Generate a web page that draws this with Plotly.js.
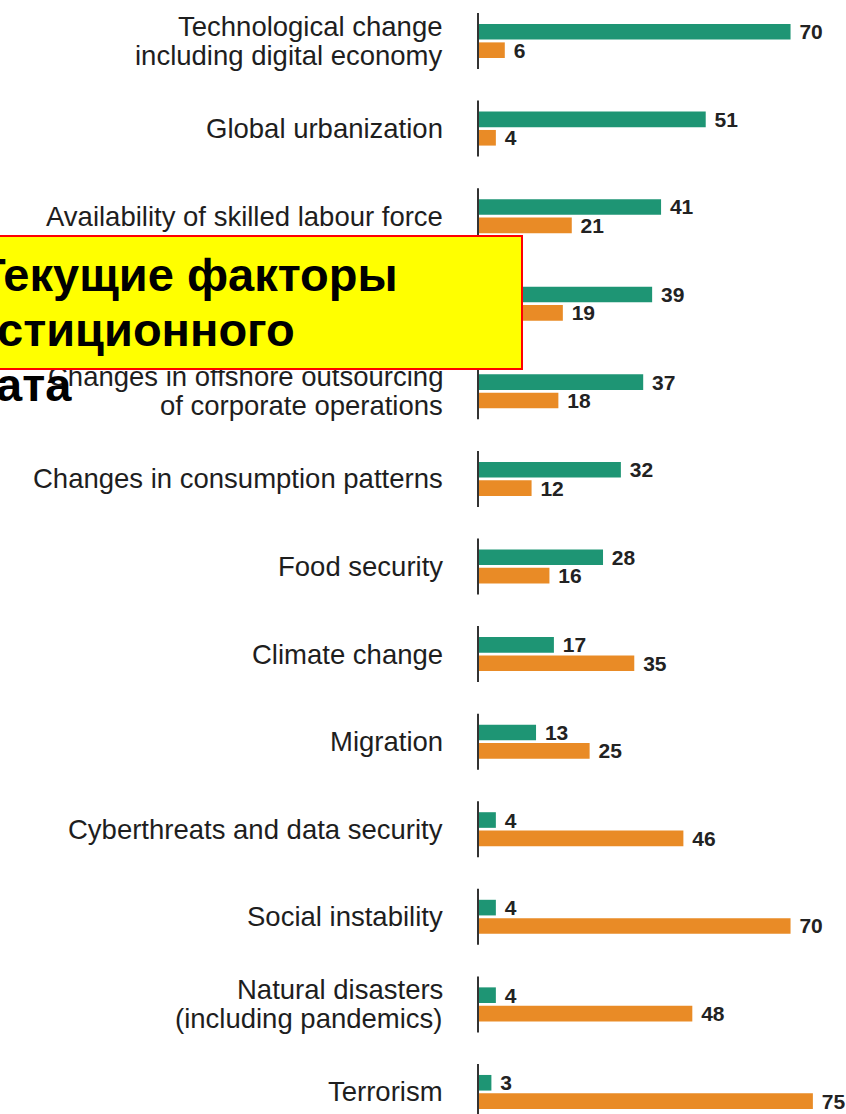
<!DOCTYPE html>
<html>
<head>
<meta charset="utf-8">
<script src="https://cdn.plot.ly/plotly-3.0.1.min.js"></script>
<style>
  html, body { margin: 0; padding: 0; background: #ffffff; }
  #chart { width: 846px; height: 1114px; }
</style>
</head>
<body>
<div id="chart"></div>
<script>
// ---- Data ----
const categories = [
  "Technological change<br>including digital economy",
  "Global urbanization",
  "Availability of skilled labour force",
  "Demographic change",
  "Changes in offshore outsourcing<br>of corporate operations",
  "Changes in consumption patterns",
  "Food security",
  "Climate change",
  "Migration",
  "Cyberthreats and data security",
  "Social instability",
  "Natural disasters<br>(including pandemics)",
  "Terrorism"
];
const greenValues  = [70, 51, 41, 39, 37, 32, 28, 17, 13, 4, 4, 4, 3];
const orangeValues = [6, 4, 21, 19, 18, 12, 16, 35, 25, 46, 70, 48, 75];
const titleLines = ["Текущие факторы", "инвестиционного", "климата"];

// ---- Styles ----
const W = 846, H = 1114;
const GREEN = "#1e9574";
const ORANGE = "#e98b26";
const TEXT = "#222222";
const labelFont = { family: "Liberation Sans, Arial, sans-serif", size: 27.5, color: "#1e1e1e" };
const valueFont = { family: "Liberation Sans, Arial, sans-serif", size: 21, color: TEXT };

const barCommon = {
  type: "bar",
  orientation: "h",
  y: categories,
  textposition: "outside",
  texttemplate: "\u00a0<b>%{x}</b>",
  textfont: valueFont,
  constraintext: "none",
  cliponaxis: true,
  hoverinfo: "skip",
  showlegend: false
};

const traces = [
  Object.assign({}, barCommon, { x: greenValues, marker: { color: GREEN } }),
  Object.assign({}, barCommon, { x: orangeValues, marker: { color: ORANGE } }),
  {
    type: "scatter",
    mode: "markers",
    x: categories.map(() => 0),
    y: categories,
    marker: { symbol: "line-ns", size: 40, color: "#333333", line: { width: 2, color: "#333333" } },
    hoverinfo: "skip",
    showlegend: false
  }
];

// Category labels (annotations so the yellow box can sit above them)
const annotations = [];
const lineStep = 29;
categories.forEach((cat) => {
  const lines = cat.split("<br>");
  const n = lines.length;
  lines.forEach((ln, k) => {
    annotations.push({
      xref: "x", yref: "y", x: 0, y: cat,
      xanchor: "right", yanchor: "middle",
      xshift: -33,
      yshift: ((n - 1) / 2 - k) * lineStep,
      text: ln, showarrow: false,
      font: labelFont
    });
  });
});

// Yellow box
annotations.push({
  xref: "paper", yref: "paper",
  x: 523 / W, y: 1 - 235 / H,
  xanchor: "right", yanchor: "top",
  text: "\u00a0", showarrow: false,
  width: 600, height: 131,
  bgcolor: "#ffff00", bordercolor: "#ff0000", borderwidth: 2, borderpad: 0
});

// Title text lines (right edges and vertical centers in pixels)
const titleRight = [400, 297, 74];
const titleMid = [274, 329, 384];
titleLines.forEach((t, i) => {
  annotations.push({
    xref: "paper", yref: "paper",
    x: titleRight[i] / W, y: 1 - titleMid[i] / H,
    xanchor: "right", yanchor: "middle",
    text: "<b>" + t + "</b>", showarrow: false,
    font: { family: "Liberation Sans, Arial, sans-serif", size: 47, color: "#000000" }
  });
});

// axis mapping: x pixel = 478 + 4.465*v ; y pixel = 41 + 87.58*i
const pxPerUnit = 4.465, x0px = 478;
const yStep = 87.58, y0px = 41;

const layout = {
  width: W, height: H,
  margin: { l: 0, r: 0, t: 0, b: 0, pad: 0 },
  paper_bgcolor: "#ffffff", plot_bgcolor: "#ffffff",
  barmode: "group",
  bargap: 0.58,
  bargroupgap: 0.15,
  hovermode: false,
  showlegend: false,
  xaxis: {
    range: [-x0px / pxPerUnit, (W - x0px) / pxPerUnit],
    showgrid: false, zeroline: false, showline: false, showticklabels: false, ticks: ""
  },
  yaxis: {
    type: "category",
    range: [(H - y0px) / yStep, -y0px / yStep],
    showgrid: false, zeroline: false, showline: false, showticklabels: false, ticks: ""
  },
  annotations: annotations
};

Plotly.newPlot("chart", traces, layout, { displayModeBar: false, staticPlot: true });
</script>
</body>
</html>
